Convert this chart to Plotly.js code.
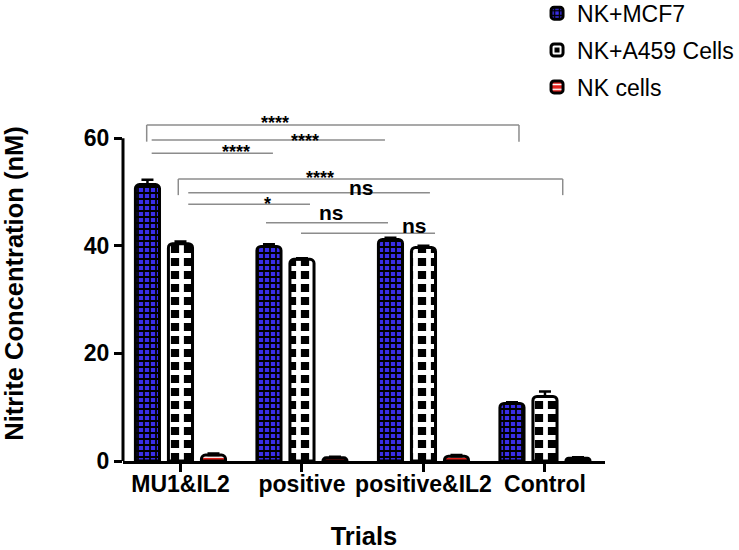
<!DOCTYPE html>
<html>
<head>
<meta charset="utf-8">
<script src="https://cdn.plot.ly/plotly-3.0.1.min.js"></script>
<style>html,body{margin:0;padding:0;background:#fff;}#chart{width:739px;height:550px;}</style>
</head>
<body>
<div id="chart"></div>
<script>
// ---- data ----
const categories = ['MU1&IL2', 'positive', 'positive&IL2', 'Control'];
const seriesNames = ['NK+MCF7', 'NK+A459 Cells', 'NK cells'];
const mcf7 = [51.4, 39.9, 41.2, 10.7];
const mcf7Err = [0.9, 0.4, 0.3, 0.2];
const a459 = [40.4, 37.5, 39.7, 12.0];
const a459Err = [0.4, 0.2, 0.3, 0.9];
const nk = [1.1, 0.6, 0.9, 0.5];
const nkErr = [0.3, 0.2, 0.2, 0.2];
const yTicks = [0, 20, 40, 60];

// significance comparisons: x start, x end (category index units), line level, label, label x, label y, bracket drop
const sigX0 = [-0.278, -0.237, -0.237, -0.018, 0.064, 0.064, 0.704, 0.992];
const sigX1 = [2.786, 1.683, 0.761, 3.146, 2.053, 1.066, 1.708, 2.095];
const sigY = [62.47, 59.68, 57.20, 52.43, 49.88, 47.72, 44.30, 42.33];
const sigDrop = [3.1, 0, 0, 3.0, 0, 0, 0, 0];
const sigLabel = ['****', '****', '****', '****', 'ns', '*', 'ns', 'ns'];
const sigLabelX = [0.778, 1.025, 0.457, 1.148, 1.486, 0.72, 1.247, 1.93];
const sigLabelY = [62.84, 59.49, 57.45, 52.67, 50.88, 47.78, 46.29, 43.74];

const zeros = categories.map(() => 0);

function barTrace(name, y, err, pattern, group) {
  return {
    type: 'bar', name: name, x: categories, y: y,
    legendgroup: group,
    marker: {
      color: pattern.bgcolor,
      line: {color: '#000', width: 3},
      cornerradius: 4,
      pattern: pattern
    },
    error_y: {type: 'data', symmetric: false, array: err, arrayminus: zeros,
              color: '#000', thickness: 2.5, width: 6},
    hoverinfo: 'skip'
  };
}

const traces = [
  barTrace(seriesNames[0], mcf7, mcf7Err,
    {shape: '+', bgcolor: '#3a2ee8', fgcolor: '#000', size: 6, solidity: 0.5, fillmode: 'replace'}, 'g1'),
  barTrace(seriesNames[1], a459, a459Err,
    {shape: '+', bgcolor: '#000', fgcolor: '#fff', size: 13, solidity: 0.6, fillmode: 'replace'}, 'g2'),
  barTrace(seriesNames[2], nk, nkErr,
    {shape: '-', bgcolor: '#e0201b', fgcolor: '#fff', size: 6, solidity: 0.3, fillmode: 'replace'}, 'g3')
];

const shapes = [];
const annotations = [];
for (let i = 0; i < sigX0.length; i++) {
  const x0 = sigX0[i], x1 = sigX1[i], y = sigY[i], d = sigDrop[i];
  if (d > 0) {
    shapes.push({type: 'line', xref: 'x', yref: 'y', x0: x0, x1: x0, y0: y - d, y1: y, line: {color: '#8c8c8c', width: 1.5}});
    shapes.push({type: 'line', xref: 'x', yref: 'y', x0: x1, x1: x1, y0: y - d, y1: y, line: {color: '#8c8c8c', width: 1.5}});
  }
  shapes.push({type: 'line', xref: 'x', yref: 'y', x0: x0, x1: x1, y0: y, y1: y, line: {color: '#8c8c8c', width: 1.5}});
  const isNs = sigLabel[i] === 'ns';
  annotations.push({
    xref: 'x', yref: 'y', x: sigLabelX[i], y: sigLabelY[i], text: sigLabel[i],
    showarrow: false, xanchor: 'center', yanchor: 'middle',
    font: {family: 'Liberation Sans, Arial, sans-serif', size: isNs ? 21 : 18, color: '#000', weight: 700}
  });
}
// y axis line limited to 0..60
shapes.push({type: 'line', xref: 'paper', yref: 'paper', x0: 0, x1: 0, y0: 0, y1: 60 / 66,
             line: {color: '#000', width: 3}});

const layout = {
  width: 739, height: 550,
  margin: {l: 123, r: 134, t: 106, b: 89, autoexpand: false},
  paper_bgcolor: '#fff', plot_bgcolor: '#fff',
  font: {family: 'Liberation Sans, Arial, sans-serif', color: '#000'},
  barmode: 'group', bargap: 0.185, bargroupgap: 0.27,
  showlegend: true,
  legend: {x: 0.859, xanchor: 'left', y: 1.322, yanchor: 'top', traceorder: 'grouped',
           tracegroupgap: 4, font: {size: 23, color: '#000'}, bgcolor: 'rgba(0,0,0,0)'},
  xaxis: {
    type: 'category', range: [-0.473, 3.494],
    showline: true, linecolor: '#000', linewidth: 3,
    ticks: 'outside', ticklen: 8, tickwidth: 3, tickcolor: '#000',
    ticklabelstandoff: -8,
    tickfont: {size: 23, weight: 700, color: '#000'},
    showgrid: false, zeroline: false,
    title: {text: 'Trials', font: {size: 25.5, weight: 700, color: '#000'}, standoff: 37}
  },
  yaxis: {
    range: [0, 66], tickvals: yTicks, ticktext: yTicks.map(String),
    showline: false, ticks: 'outside', ticklen: 8, tickwidth: 3, tickcolor: '#000',
    tickfont: {size: 23, weight: 700, color: '#000'},
    showgrid: false, zeroline: false,
    title: {text: 'Nitrite Concentration (nM)', font: {size: 25.5, weight: 700, color: '#000'}, standoff: 52}
  },
  shapes: shapes,
  annotations: annotations
};

Plotly.newPlot('chart', traces, layout, {displayModeBar: false, staticPlot: true});
</script>
</body>
</html>
